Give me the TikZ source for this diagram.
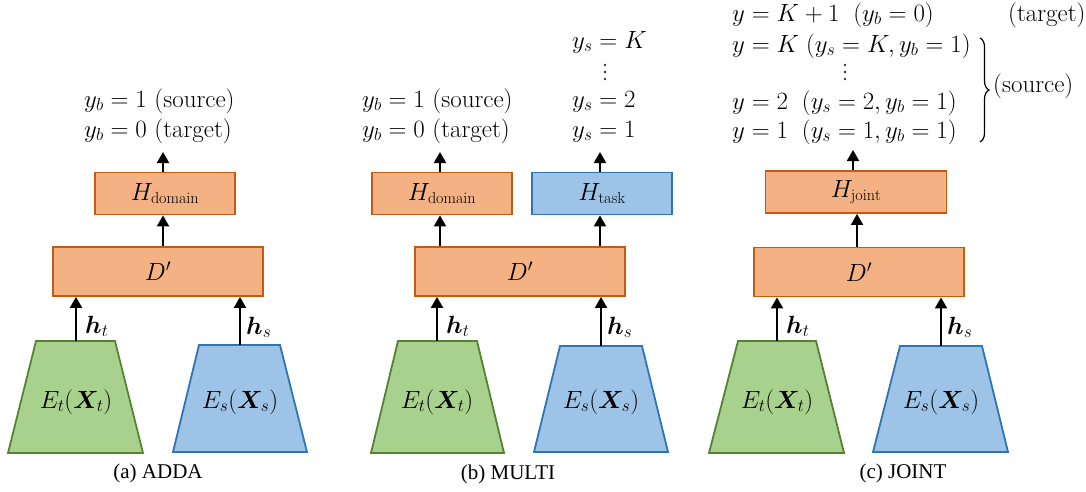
\documentclass[tikz,border=0pt]{standalone}
\usepackage{amsmath,bm}
\usepackage{fontspec}
\newfontfamily\capfont{Liberation Serif}
\usetikzlibrary{arrows.meta,decorations.pathreplacing}
\definecolor{orfill}{HTML}{F4B183}
\definecolor{ordraw}{HTML}{C55A11}
\definecolor{grfill}{HTML}{A9D18E}
\definecolor{grdraw}{HTML}{548235}
\definecolor{blfill}{HTML}{9DC3E6}
\definecolor{bldraw}{HTML}{2E75B6}
\tikzset{
  lbl/.style={font=\fontsize{23}{27}\selectfont, inner sep=0pt},
  ylbl/.style={font=\fontsize{25}{29}\selectfont, inner sep=0pt},
  obox/.style={draw=ordraw, fill=orfill, line width=1.8pt, inner sep=0pt, minimum height=42pt, lbl},
  bbox/.style={draw=bldraw, fill=blfill, line width=1.8pt, inner sep=0pt, minimum height=42pt, lbl},
  dbox/.style={obox, minimum width=210pt, minimum height=49pt},
  gtrap/.style={draw=grdraw, fill=grfill, line width=1.8pt, line join=miter},
  btrap/.style={draw=bldraw, fill=blfill, line width=1.8pt, line join=miter},
  arr/.style={-{Triangle[width=12pt,length=11pt]}, line width=2pt, black},
  vdot/.style={fill=black!80, circle, inner sep=0pt, minimum size=2.6pt},
  captext/.style={font=\fontsize{21}{25}\capfont, inner sep=0pt},
}
\begin{document}
\begin{tikzpicture}[x=1pt,y=-1pt]
\useasboundingbox (0,0) rectangle (1086,491);

% ================= (a) ADDA =================
\draw[gtrap] (8,453) -- (36,341) -- (115,341) -- (143,453) -- cycle;
\draw[btrap] (173,452) -- (199,345) -- (280,345) -- (307,452) -- cycle;
\node[lbl] (aEt) at (76,402) {$E_t(\bm{X}_t)$};
\node[lbl] (aEs) at (240,402) {$E_s(\bm{X}_s)$};
\coordinate (aGt) at (76,341);
\coordinate (aBt) at (240,345);
\node[dbox] (aD) at (158,271.5) {$D'$};
\node[obox, minimum width=140pt] (aH) at (165,193.5) {$H_{\mathrm{domain}}$};
\coordinate (aTop) at (163,152);
\draw[arr] (aGt) -- (aGt |- aD.south);
\draw[arr] (aBt) -- (aBt |- aD.south);
\draw[arr] (aD.north -| aTop) -- (aH.south -| aTop);
\draw[arr] (aH.north -| aTop) -- (aTop);
\node[lbl, anchor=base west] (aht) at (85,333) {$\bm{h}_t$};
\node[lbl, anchor=base west] (ahs) at (246,334) {$\bm{h}_s$};
\node[ylbl, anchor=base west] (ay1) at (84,107) {$y_b = 1$ (source)};
\node[ylbl, anchor=base west] (ay0) at (84,137) {$y_b = 0$ (target)};
\node[captext] (capa) at (158,473) {(a) ADDA};

% ================= (b) MULTI =================
\draw[gtrap] (371,453) -- (398,341) -- (477,341) -- (504,453) -- cycle;
\draw[btrap] (534,452) -- (560,346) -- (642,346) -- (668,452) -- cycle;
\node[lbl] (bEt) at (437,402) {$E_t(\bm{X}_t)$};
\node[lbl] (bEs) at (601,402) {$E_s(\bm{X}_s)$};
\coordinate (bGt) at (437,341);
\coordinate (bBt) at (601,346);
\node[dbox] (bD) at (520,271.5) {$D'$};
\node[obox, minimum width=140pt] (bH) at (442,193.5) {$H_{\mathrm{domain}}$};
\node[bbox, minimum width=140pt] (bT) at (602,193.5) {$H_{\mathrm{task}}$};
\coordinate (bTopL) at (440,152);
\coordinate (bTopR) at (600,152);
\draw[arr] (bGt) -- (bGt |- bD.south);
\draw[arr] (bBt) -- (bBt |- bD.south);
\draw[arr] (bD.north -| bTopL) -- (bH.south -| bTopL);
\draw[arr] (bD.north -| bTopR) -- (bT.south -| bTopR);
\draw[arr] (bH.north -| bTopL) -- (bTopL);
\draw[arr] (bT.north -| bTopR) -- (bTopR);
\node[lbl, anchor=base west] (bht) at (446,333) {$\bm{h}_t$};
\node[lbl, anchor=base west] (bhs) at (607,334) {$\bm{h}_s$};
\node[ylbl, anchor=base west] (by1) at (362,107) {$y_b = 1$ (source)};
\node[ylbl, anchor=base west] (by0) at (362,137) {$y_b = 0$ (target)};
\node[ylbl, anchor=base west] (bsK) at (572,48) {$y_s = K$};
\node[vdot] (bd1) at (605,65) {};
\node[vdot] (bd2) at (605,72) {};
\node[vdot] (bd3) at (605,79) {};
\node[ylbl, anchor=base west] (bs2) at (572,107) {$y_s = 2$};
\node[ylbl, anchor=base west] (bs1) at (572,137) {$y_s = 1$};
\node[captext] (capb) at (508,474) {(b) MULTI};

% ================= (c) JOINT =================
\draw[gtrap] (709,453) -- (738,341) -- (816,341) -- (844,453) -- cycle;
\draw[btrap] (873,452) -- (900,346) -- (982,346) -- (1008,452) -- cycle;
\node[lbl] (cEt) at (777,402) {$E_t(\bm{X}_t)$};
\node[lbl] (cEs) at (941,402) {$E_s(\bm{X}_s)$};
\coordinate (cGt) at (777,341);
\coordinate (cBt) at (941,346);
\node[dbox] (cD) at (859,272) {$D'$};
\node[obox, minimum width=181pt] (cH) at (856,192) {$H_{\mathrm{joint}}$};
\coordinate (cMid) at (857,230);
\coordinate (cTop) at (853,150);
\draw[arr] (cGt) -- (cGt |- cD.south);
\draw[arr] (cBt) -- (cBt |- cD.south);
\draw[arr] (cD.north -| cMid) -- (cH.south -| cMid);
\draw[arr] (cH.north -| cTop) -- (cTop);
\node[lbl, anchor=base west] (cht) at (786,333) {$\bm{h}_t$};
\node[lbl, anchor=base west] (chs) at (947,334) {$\bm{h}_s$};
\node[ylbl, anchor=base west] (cl0) at (732,21) {$y = K+1\;\;(y_b = 0)$};
\node[ylbl, anchor=base west] (ctg) at (1008,21) {(target)};
\node[ylbl, anchor=base west] (clK) at (732,52) {$y = K\;(y_s = K, y_b = 1)$};
\node[vdot] (cd1) at (845,65) {};
\node[vdot] (cd2) at (845,72) {};
\node[vdot] (cd3) at (845,79) {};
\node[ylbl, anchor=base west] (cl2) at (732,109) {$y = 2\;\;(y_s = 2, y_b = 1)$};
\node[ylbl, anchor=base west] (cl1) at (732,138) {$y = 1\;\;(y_s = 1, y_b = 1)$};
\coordinate (brT) at (980,38);
\coordinate (brB) at (980,142);
\draw[line width=1.2pt, decorate, decoration={brace, amplitude=9pt}] (brT) -- (brB);
\node[ylbl, anchor=west] (csrc) at (993,86) {(source)};
\node[captext] (capc) at (903,473) {(c) JOINT};
\end{tikzpicture}
\end{document}
